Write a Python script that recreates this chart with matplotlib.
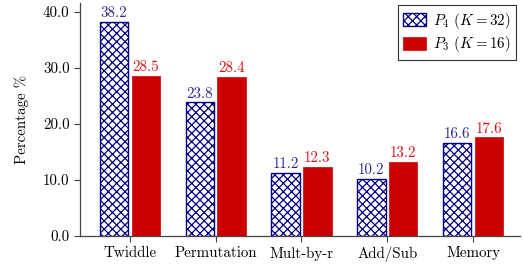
import numpy as np
import matplotlib
matplotlib.use('Agg')
import matplotlib.pyplot as plt

plt.rcParams['font.family'] = ['cmr10', 'DejaVu Serif']
plt.rcParams['mathtext.fontset'] = 'cm'
plt.rcParams['axes.formatter.use_mathtext'] = True
plt.rcParams['hatch.linewidth'] = 0.9

categories = ['Twiddle', 'Permutation', 'Mult-by-r', 'Add/Sub', 'Memory']
p4_values = [38.2, 23.8, 11.2, 10.2, 16.6]
p3_values = [28.5, 28.4, 12.3, 13.2, 17.6]
p4_label = r'$P_4$ ($K = 32$)'
p3_label = r'$P_3$ ($K = 16$)'

blue = '#000080'
red = '#cc0000'
fs = 10.8

fig = plt.figure(figsize=(5.23, 2.64), dpi=100)
ax = fig.add_axes([0.153, 0.106, 0.842, 0.882])

x = np.arange(len(categories))
w = 0.33
off = 0.185
ax.bar(x - off, p4_values, w, color='white', edgecolor=blue, hatch='xxxx',
       linewidth=1.0, label=p4_label)
ax.bar(x + off, p3_values, w, color=red, edgecolor=red, linewidth=0.5,
       label=p3_label)

for xi, v in zip(x - off, p4_values):
    ax.text(xi, v + 0.3, f'{v:.1f}', ha='center', va='bottom', color='#2b2b8c', fontsize=fs)
for xi, v in zip(x + off, p3_values):
    ax.text(xi, v + 0.3, f'{v:.1f}', ha='center', va='bottom', color='#dd1111', fontsize=fs)

ax.set_xlim(-0.58, 4.55)
ax.set_ylim(0, 41.5)
ax.set_yticks([0, 10, 20, 30, 40])
ax.set_yticklabels([f'{t:.1f}' for t in [0, 10, 20, 30, 40]], fontsize=fs)
ax.set_xticks(x)
ax.set_xticklabels(categories, fontsize=fs)
ax.set_ylabel('Percentage %', fontsize=fs, labelpad=10)

ax.spines['top'].set_visible(False)
ax.spines['right'].set_visible(False)
for s in ['left', 'bottom']:
    ax.spines[s].set_color('#444444')
    ax.spines[s].set_linewidth(0.9)
ax.tick_params(axis='both', colors='#444444', labelcolor='black', length=4, width=0.8)

leg = ax.legend(loc='upper right', fontsize=fs, frameon=True, fancybox=False,
                edgecolor='black', handlelength=1.5, handleheight=1.0,
                borderpad=0.35, labelspacing=0.25, handletextpad=0.5,
                borderaxespad=0.0, bbox_to_anchor=(0.99, 0.99))
leg.get_frame().set_linewidth(0.8)

fig.savefig('out.png', dpi=100)
